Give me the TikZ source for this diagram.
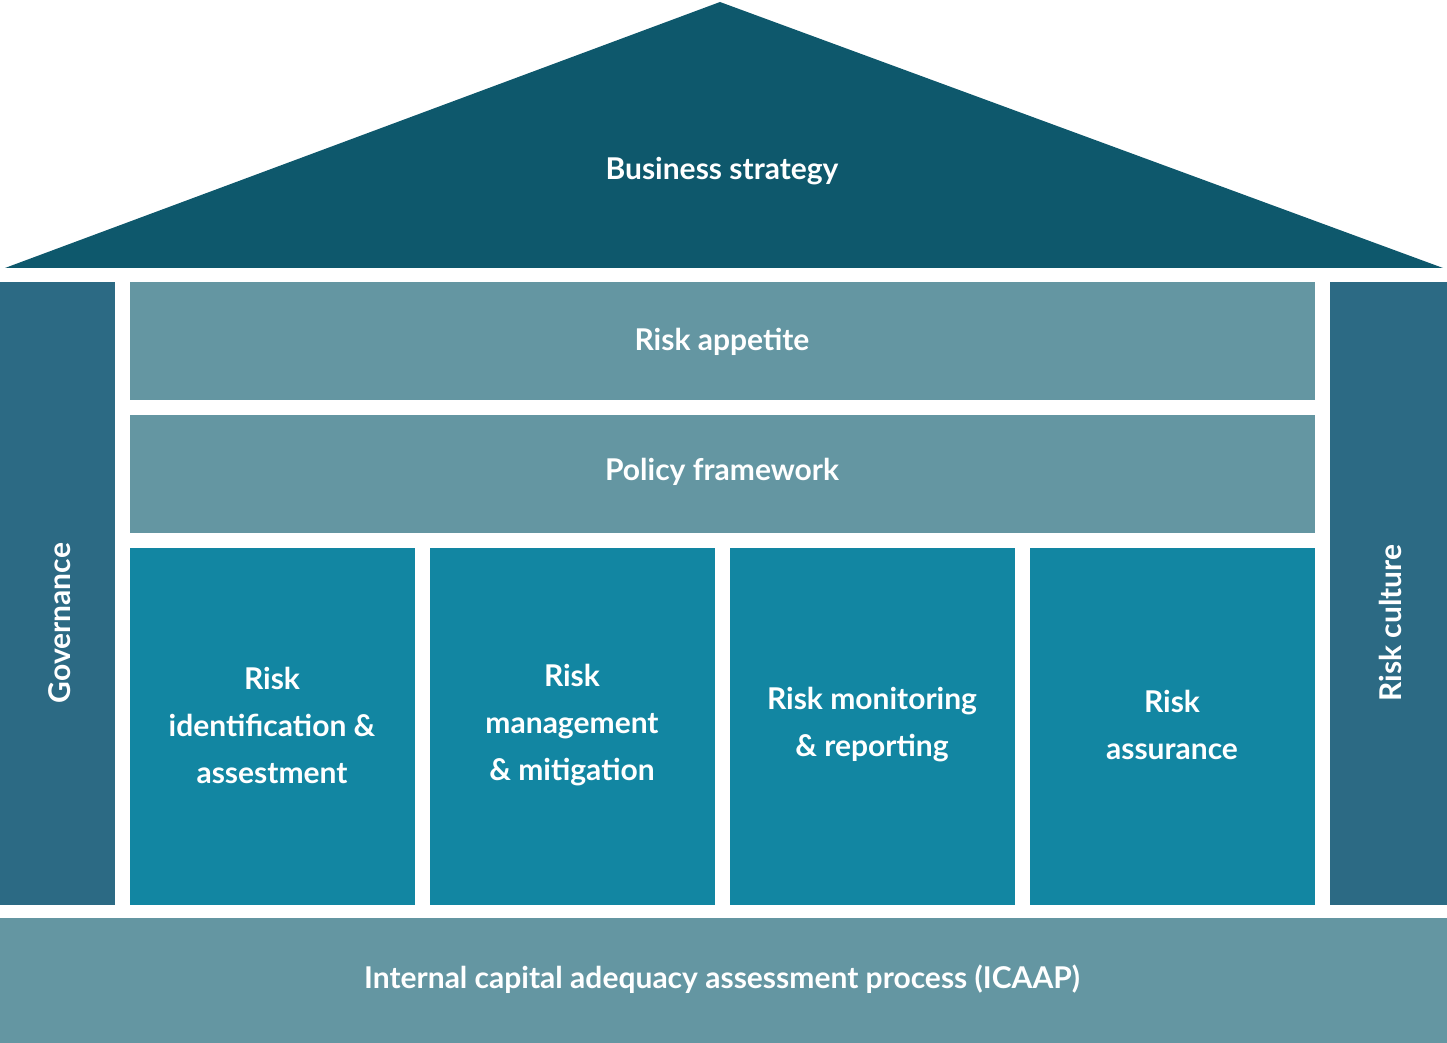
\documentclass[tikz,border=0pt]{standalone}
\usepackage{fontspec}
\setmainfont{Lato}
\usepackage{tikz}
\usetikzlibrary{positioning}
\definecolor{roofcol}{RGB}{14,88,108}
\definecolor{pillarcol}{RGB}{44,106,132}
\definecolor{bandcol}{RGB}{100,150,162}
\definecolor{boxcol}{RGB}{18,134,162}
\tikzset{lbl/.style={text=white,font=\bfseries\fontsize{15}{23.5}\selectfont,align=center,inner sep=0pt}}

\begin{document}
\begin{tikzpicture}[x=0.5pt,y=0.5pt,yscale=-1,xscale=1]
\useasboundingbox (0,0) rectangle (1447,1043);

%Shape: Roof
\fill [roofcol] (5,268) -- (720,2) -- (1443,268) -- cycle;
%Shape: Pillars
\fill [pillarcol] (0,282) rectangle (115,905);
\fill [pillarcol] (1330,282) rectangle (1447,905);
%Shape: Bands
\fill [bandcol] (130,282) rectangle (1315,400);
\fill [bandcol] (130,415) rectangle (1315,533);
%Shape: Process boxes
\foreach \x in {130,430,730,1030}
  \fill [boxcol] (\x,548) rectangle (\x+285,905);
%Shape: Base
\fill [bandcol] (0,918) rectangle (1447,1043);

% Text Node
\node [lbl] (strategy) at (722,171) {Business strategy};
% Text Node
\node [lbl,rotate=90] (governance) at (60,623) {Governance};
% Text Node
\node [lbl,rotate=90] (culture) at (1390,623) {Risk culture};
% Text Node
\node [lbl] (appetite) at (722,342) {Risk appetite};
% Text Node
\node [lbl] (policy) at (722,472) {Policy framework};
% Text Node
\node [lbl] (identify) at (272,725) {Risk\\identification \&\\assestment};
% Text Node
\node [lbl] (manage) at (572,725) {Risk\\management\\\& mitigation};
% Text Node
\node [lbl] (monitor) at (872,725) {Risk monitoring\\\& reporting};
% Text Node
\node [lbl] (assure) at (1172,725) {Risk\\assurance};
% Text Node
\node [lbl] (icaap) at (722,979) {Internal capital adequacy assessment process (ICAAP)};

\end{tikzpicture}
\end{document}
